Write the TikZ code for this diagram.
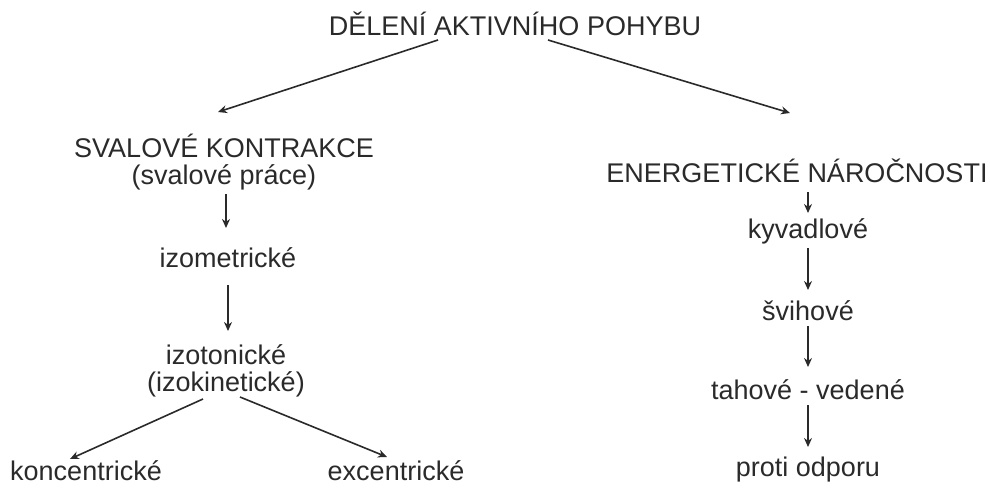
\documentclass[tikz,border=0pt]{standalone}
\usepackage{fontspec}
\setmainfont{Liberation Sans}
\usetikzlibrary{arrows.meta}
\definecolor{ink}{HTML}{2A2A2A}
\begin{document}
\begin{tikzpicture}[x=1pt,y=-1pt,
  lbl/.style={text=ink,font=\fontsize{27}{26.5}\selectfont,inner sep=2pt,align=center},
  conn/.style={draw=ink,line width=1.6pt,-{Stealth[length=9pt,width=8pt,fill=gray]}}]
\useasboundingbox (0,0) rectangle (990,490);
\node[lbl] (t) at (515,24) {DĚLENÍ AKTIVNÍHO POHYBU};
\node[lbl] (s) at (224,162) {SVALOVÉ KONTRAKCE\\(svalové práce)};
\node[lbl] (e) at (797,171) {ENERGETICKÉ NÁROČNOSTI};
\node[lbl] (iz) at (228,258) {izometrické};
\node[lbl] (it) at (226,371) {izotonické\\(izokinetické)};
\node[lbl] (k) at (86,471) {koncentrické};
\node[lbl] (x) at (396,471) {excentrické};
\node[lbl] (kv) at (808,231) {kyvadlové};
\node[lbl] (sv) at (808,311) {švihové};
\node[lbl] (th) at (808,390) {tahové - vedené};
\node[lbl] (po) at (808,470) {proti odporu};
% connector end points
\coordinate (ta) at (438,40);
\coordinate (tb) at (548,40);
\coordinate (sa) at (218,112);
\coordinate (ea) at (790,113);
\coordinate (s1) at (226,194);
\coordinate (iz0) at (226,228);
\coordinate (iz1) at (228,285);
\coordinate (it0) at (228,331);
\coordinate (it1) at (203,399);
\coordinate (it2) at (240,397);
\coordinate (k0) at (70,459);
\coordinate (x0) at (387,457);
\coordinate (e1) at (808,192);
\coordinate (kv0) at (808,213);
\coordinate (kv1) at (808,248);
\coordinate (sv0) at (808,290);
\coordinate (sv1) at (808,326);
\coordinate (th0) at (808,367);
\coordinate (th1) at (808,405);
\coordinate (po0) at (808,447);
\draw[conn] (ta) -- (sa);
\draw[conn] (tb) -- (ea);
\draw[conn] (s1) -- (iz0);
\draw[conn] (iz1) -- (it0);
\draw[conn] (it1) -- (k0);
\draw[conn] (it2) -- (x0);
\draw[conn] (e1) -- (kv0);
\draw[conn] (kv1) -- (sv0);
\draw[conn] (sv1) -- (th0);
\draw[conn] (th1) -- (po0);
\end{tikzpicture}
\end{document}
